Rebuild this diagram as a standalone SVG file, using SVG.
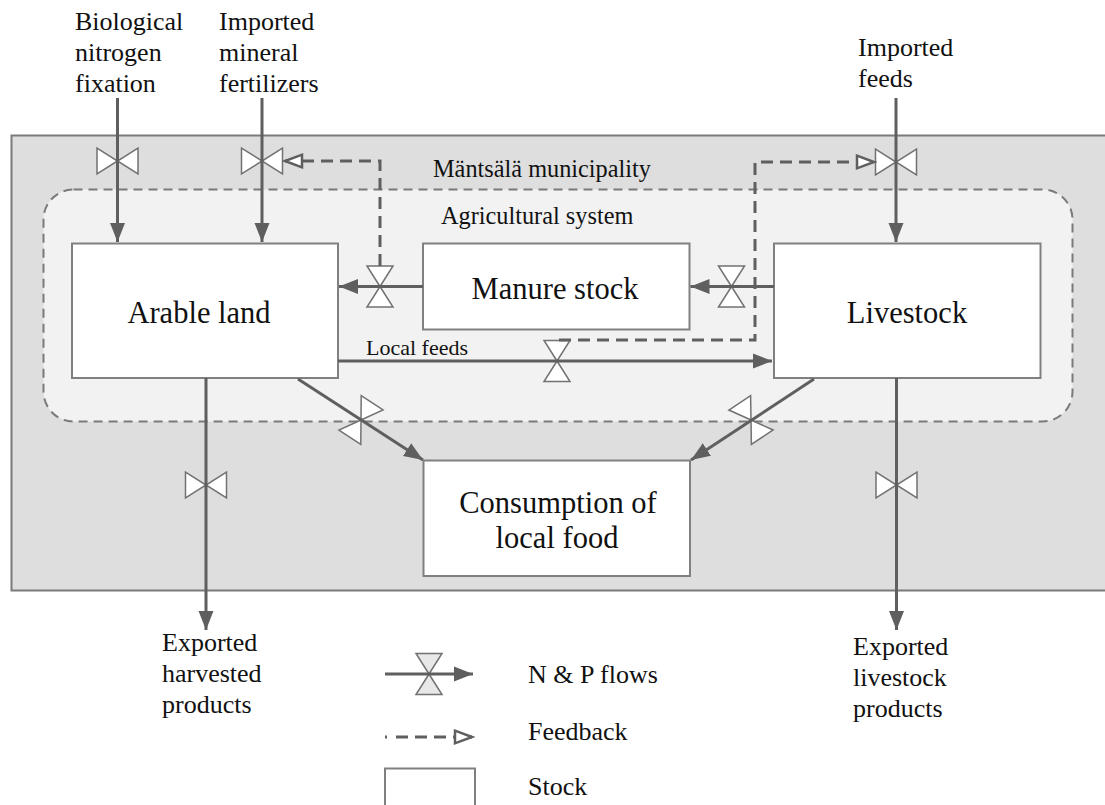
<svg xmlns="http://www.w3.org/2000/svg" width="1105" height="805" viewBox="0 0 1105 805">
<style>
.big{font-size:30.5px;text-anchor:middle}
.lbl{font-size:26px}
.mid{font-size:24.3px}
.sm{font-size:22px}
.box{fill:#fff;stroke:#808080;stroke-width:2}
.flow{fill:none;stroke:#5f5f5f;stroke-width:3}
.fb{fill:none;stroke:#5f5f5f;stroke-width:3;stroke-dasharray:12 7}
.valve{fill:#fff;stroke:#727272;stroke-width:1.5;stroke-linejoin:miter}
</style>
<defs>
<marker id="ah" markerUnits="userSpaceOnUse" markerWidth="20" markerHeight="16" refX="19" refY="8" orient="auto">
<path d="M0,0.5 L19,8 L0,15.5 z" fill="#5f5f5f"/>
</marker>
<marker id="oh" markerUnits="userSpaceOnUse" markerWidth="22" markerHeight="18" refX="19" refY="9" orient="auto">
<path d="M2,2.7 L19,9 L2,15.3 z" fill="#fff" stroke="#5f5f5f" stroke-width="2.5" stroke-linejoin="miter"/>
</marker>
<g id="v">
<path d="M-13,-20.5 L13,-20.5 L0,0 z M-13,20.5 L13,20.5 L0,0 z"/>
</g>
</defs>

<g id="background" font-family="'Liberation Serif', 'DejaVu Serif', serif" fill="#111">
<rect x="11.5" y="135.5" width="1105" height="455" fill="#dedede" stroke="#7a7a7a" stroke-width="2"/>
<rect x="43.5" y="189.5" width="1029" height="232" rx="30" ry="30" fill="#f2f2f2" stroke="#7a7a7a" stroke-width="2" stroke-dasharray="9 6"/>
<text class="mid" x="433" y="177">Mäntsälä municipality</text>
<text class="mid" x="441" y="224">Agricultural system</text>
</g>

<g font-family="'Liberation Serif', 'DejaVu Serif', serif">
<g id="arable-land">
<rect class="box" x="72" y="243.5" width="266" height="134.5"/>
<text class="big" x="199" y="323" fill="#111">Arable land</text>
</g>
<g id="manure-stock">
<rect class="box" x="423" y="243.5" width="266.5" height="86"/>
<text class="big" x="555" y="299" fill="#111">Manure stock</text>
</g>
<g id="livestock">
<rect class="box" x="774" y="243.5" width="266.5" height="134.5"/>
<text class="big" x="907" y="323" fill="#111">Livestock</text>
</g>
<g id="consumption">
<rect class="box" x="423.5" y="460.5" width="266.5" height="115.5"/>
<text class="big" x="558" y="513" fill="#111">Consumption of</text>
<text class="big" x="557" y="548" fill="#111">local food</text>
</g>
</g>

<g id="labels" font-family="'Liberation Serif', 'DejaVu Serif', serif" fill="#111">
<text class="lbl" x="75" y="30">Biological</text>
<text class="lbl" x="75" y="61">nitrogen</text>
<text class="lbl" x="75" y="92">fixation</text>
<text class="lbl" x="219" y="30">Imported</text>
<text class="lbl" x="219" y="61">mineral</text>
<text class="lbl" x="219" y="92">fertilizers</text>
<text class="lbl" x="858" y="56">Imported</text>
<text class="lbl" x="858" y="87">feeds</text>
<text class="lbl" x="162" y="651">Exported</text>
<text class="lbl" x="162" y="682">harvested</text>
<text class="lbl" x="162" y="713">products</text>
<text class="lbl" x="853" y="655">Exported</text>
<text class="lbl" x="853" y="686">livestock</text>
<text class="lbl" x="853" y="717">products</text>
<text class="sm" x="366" y="355">Local feeds</text>
</g>

<g id="valves" class="valve">
<use href="#v" transform="translate(117.5,161) rotate(90)"/>
<use href="#v" transform="translate(262,161) rotate(90)"/>
<use href="#v" transform="translate(896,162) rotate(90)"/>
<use href="#v" transform="translate(380,286.5)"/>
<use href="#v" transform="translate(731.5,286.5)"/>
<use href="#v" transform="translate(557,361)"/>
<use href="#v" transform="translate(361,420) rotate(32.9)"/>
<use href="#v" transform="translate(751,420) rotate(-33.3)"/>
<use href="#v" transform="translate(206,485) rotate(90)"/>
<use href="#v" transform="translate(896.5,485) rotate(90)"/>
</g>

<g id="connectors">
<line class="flow" x1="117.5" y1="98" x2="117.5" y2="242" marker-end="url(#ah)"/>
<line class="flow" x1="262" y1="98" x2="262" y2="242" marker-end="url(#ah)"/>
<line class="flow" x1="896" y1="98" x2="896" y2="242" marker-end="url(#ah)"/>
<line class="flow" x1="423" y1="286.5" x2="339" y2="286.5" marker-end="url(#ah)"/>
<line class="flow" x1="774" y1="286.5" x2="690.5" y2="286.5" marker-end="url(#ah)"/>
<line class="flow" x1="338" y1="361" x2="772" y2="361" marker-end="url(#ah)"/>
<line class="flow" x1="298" y1="379" x2="423" y2="460" marker-end="url(#ah)"/>
<line class="flow" x1="814" y1="379" x2="691" y2="460" marker-end="url(#ah)"/>
<line class="flow" x1="206" y1="378" x2="206" y2="630" marker-end="url(#ah)"/>
<line class="flow" x1="896.5" y1="378" x2="896.5" y2="630" marker-end="url(#ah)"/>
<path class="fb" d="M380,266 V161 H285" marker-end="url(#oh)"/>
<path class="fb" d="M559,340 H755 V162 H874" marker-end="url(#oh)"/>
</g>

<g id="legend" font-family="'Liberation Serif', 'DejaVu Serif', serif">
<use href="#v" transform="translate(429,674)" fill="#e8e8e8" stroke="#727272" stroke-width="1.5"/>
<line class="flow" x1="385" y1="674" x2="473" y2="674" marker-end="url(#ah)"/>
<text class="lbl" x="528" y="683" fill="#111" font-size="27">N &amp; P flows</text>
<path class="fb" d="M385,737 H472" style="stroke-dasharray:2 9 12 7 12 7 12 7" marker-end="url(#oh)"/>
<text class="lbl" x="528" y="740" fill="#111">Feedback</text>
<rect x="385" y="768.5" width="90" height="50" fill="#fff" stroke="#808080" stroke-width="2"/>
<text class="lbl" x="528" y="795" fill="#111">Stock</text>
</g>
</svg>
